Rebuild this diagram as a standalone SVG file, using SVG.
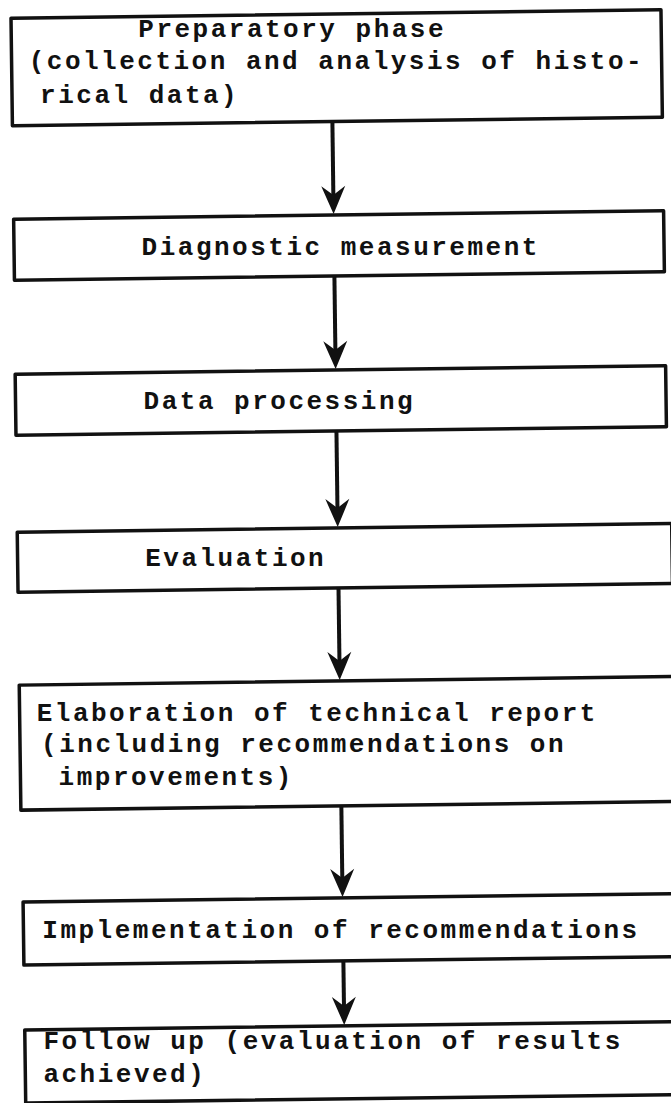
<svg xmlns="http://www.w3.org/2000/svg" width="671" height="1103" viewBox="0 0 671 1103">
<defs>
<style>
.box{fill:#fff;stroke:#111;stroke-width:3.5;stroke-linejoin:round}
.t{font-family:"Liberation Mono","DejaVu Sans Mono",monospace;font-weight:bold;font-size:26px;letter-spacing:2.5px;fill:#111}
.con{stroke:#111;stroke-width:4;fill:none}
.head{fill:#111;stroke:none}
</style>
<path id="ah" d="M0,0 L-12,-28 L0,-19 L12,-28 Z"/>
</defs>
<rect width="671" height="1103" fill="#fff"/>
<g id="connectors" transform="rotate(-0.75 335 550)">
<line class="con" x1="338" y1="121.5" x2="338" y2="200"/>
<use href="#ah" class="head" x="338" y="214"/>
<line class="con" x1="338" y1="276" x2="338" y2="356"/>
<use href="#ah" class="head" x="338" y="369"/>
<line class="con" x1="338" y1="431" x2="338" y2="514"/>
<use href="#ah" class="head" x="338" y="527"/>
<line class="con" x1="338" y1="588" x2="338" y2="667"/>
<use href="#ah" class="head" x="338" y="680"/>
<line class="con" x1="338" y1="806" x2="338" y2="884"/>
<use href="#ah" class="head" x="338" y="897"/>
<line class="con" x1="338" y1="961" x2="338" y2="1012"/>
<use href="#ah" class="head" x="338" y="1025"/>
</g>
<g id="n1">
<rect class="box" x="18" y="14" width="650" height="107.5" transform="rotate(-0.75 335 550)"/>
<text class="t" x="138.3" y="36.5">Preparatory phase</text>
<text class="t" x="28.7" y="68.9">(collection and analysis of histo-</text>
<text class="t" x="40.1" y="102.5">rical data)</text>
</g>
<g id="n2">
<rect class="box" x="18" y="215" width="650" height="61" transform="rotate(-0.75 335 550)"/>
<text class="t" x="141.6" y="254.9">Diagnostic measurement</text>
</g>
<g id="n3">
<rect class="box" x="17.5" y="370" width="650.5" height="61" transform="rotate(-0.75 335 550)"/>
<text class="t" x="143.6" y="408.7">Data processing</text>
</g>
<g id="n4">
<rect class="box" x="17.5" y="528" width="654.5" height="60" transform="rotate(-0.75 335 550)"/>
<text class="t" x="145.2" y="566.3">Evaluation</text>
</g>
<g id="n5">
<rect class="box" x="17.5" y="681" width="680" height="125" transform="rotate(-0.75 335 550)"/>
<text class="t" x="36.7" y="721.3">Elaboration of technical report</text>
<text class="t" x="41.1" y="752.4">(including recommendations on</text>
<text class="t" x="58.6" y="785.1">improvements)</text>
</g>
<g id="n6">
<rect class="box" x="18.5" y="898" width="680" height="63" transform="rotate(-0.75 335 550)"/>
<text class="t" x="42.3" y="938">Implementation of recommendations</text>
</g>
<g id="n7">
<rect class="box" x="18.5" y="1026" width="680" height="73" transform="rotate(-0.75 335 550)"/>
<text class="t" x="43.5" y="1049.1">Follow up (evaluation of results</text>
<text class="t" x="43.4" y="1081.8">achieved)</text>
</g>
</svg>
